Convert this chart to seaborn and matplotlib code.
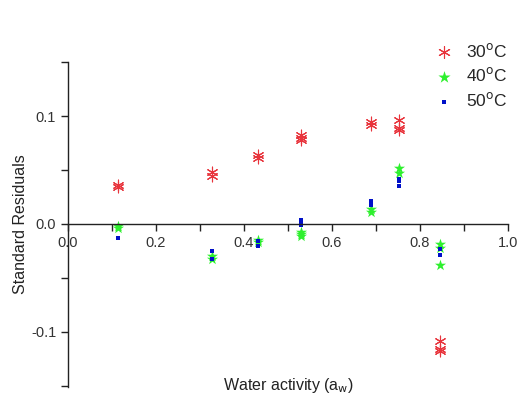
import numpy as np
import pandas as pd
import seaborn as sns
import matplotlib.pyplot as plt
from matplotlib.ticker import MultipleLocator, FixedLocator

# water activity levels (x positions of the replicate groups)
aw_levels = [0.113, 0.328, 0.432, 0.529, 0.689, 0.753, 0.845]

# residuals, replicates per water activity
res_30 = [[0.036, 0.034], [0.048, 0.044], [0.064, 0.061], [0.082, 0.080, 0.078],
          [0.094, 0.092], [0.096, 0.089, 0.087], [-0.108, -0.116, -0.118]]
res_40 = [[-0.002, -0.004], [-0.030, -0.032], [-0.015, -0.017], [-0.007, -0.009, -0.011],
          [0.014, 0.011], [0.052, 0.047], [-0.019, -0.022, -0.038]]
res_50 = [[-0.013], [-0.025, -0.032], [-0.016, -0.020], [0.004, 0.001, -0.001],
          [0.021, 0.018], [0.042, 0.040, 0.035], [-0.023, -0.029]]

temps = ["30", "40", "50"]


def to_frame(values, temp):
    rows = []
    for aw, reps in zip(aw_levels, values):
        for r in reps:
            rows.append({"aw": aw, "res": r, "temp": temp})
    return pd.DataFrame(rows)


df = pd.concat([to_frame(res_30, "30"), to_frame(res_40, "40"), to_frame(res_50, "50")])

sns.set_style("ticks")
plt.rcParams['font.family'] = ['Liberation Sans', 'DejaVu Sans']

fig = plt.figure(figsize=(5.22, 4.04), dpi=100)
ax = fig.add_axes([0.1303, 0.042, 0.8427, 0.8045])

styles = {"30": dict(color="#e8343c", marker=(6, 2, 0), s=60, linewidth=0.8),
          "40": dict(color="#2ef02e", marker="*", s=70, linewidth=0),
          "50": dict(color="#0010c8", marker="s", s=9, linewidth=0)}

for t in temps:
    sub = df[df.temp == t]
    st = styles[t]
    sns.scatterplot(data=sub, x="aw", y="res", ax=ax, color=st["color"],
                    marker=st["marker"], s=st["s"], linewidth=st["linewidth"],
                    edgecolor=st["color"], label=r"%s$^{\rm o}$C" % t)

ax.set_xlim(0, 1.0)
ax.set_ylim(-0.151, 0.15)
ax.spines['top'].set_visible(False)
ax.spines['right'].set_visible(False)
ax.spines['bottom'].set_position(('data', 0))
for sp in ['left', 'bottom']:
    ax.spines[sp].set_color("#222222")
    ax.spines[sp].set_linewidth(1.0)

ax.xaxis.set_major_locator(MultipleLocator(0.2))
ax.xaxis.set_minor_locator(MultipleLocator(0.1))
ax.yaxis.set_major_locator(FixedLocator([-0.1, 0.0, 0.1]))
ax.yaxis.set_minor_locator(FixedLocator([-0.15, -0.05, 0.05, 0.15]))
ax.xaxis.set_major_formatter(plt.FuncFormatter(lambda v, p: "%.1f" % v))
ax.yaxis.set_major_formatter(plt.FuncFormatter(lambda v, p: "%.1f" % v))
ax.tick_params(axis='both', which='major', direction='out', length=5, width=1,
               labelsize=10.5, color="#222222", labelcolor="#333333")
ax.tick_params(axis='both', which='minor', direction='out', length=5, width=1,
               color="#222222")

ax.set_xlabel(r"Water activity (a$_{\rm w}$)", fontsize=11.5, color="#222222")
ax.set_ylabel("Standard Residuals", fontsize=11.5, color="#222222")
ax.xaxis.set_label_coords(0.5, 0.035)
ax.yaxis.set_label_coords(-0.09, 0.5)

leg = ax.legend(loc="upper right", bbox_to_anchor=(1.035, 1.11), frameon=False,
                fontsize=12.5, handletextpad=0.3, labelspacing=0.38, markerscale=1.1)

fig.savefig("out.png", dpi=100)
